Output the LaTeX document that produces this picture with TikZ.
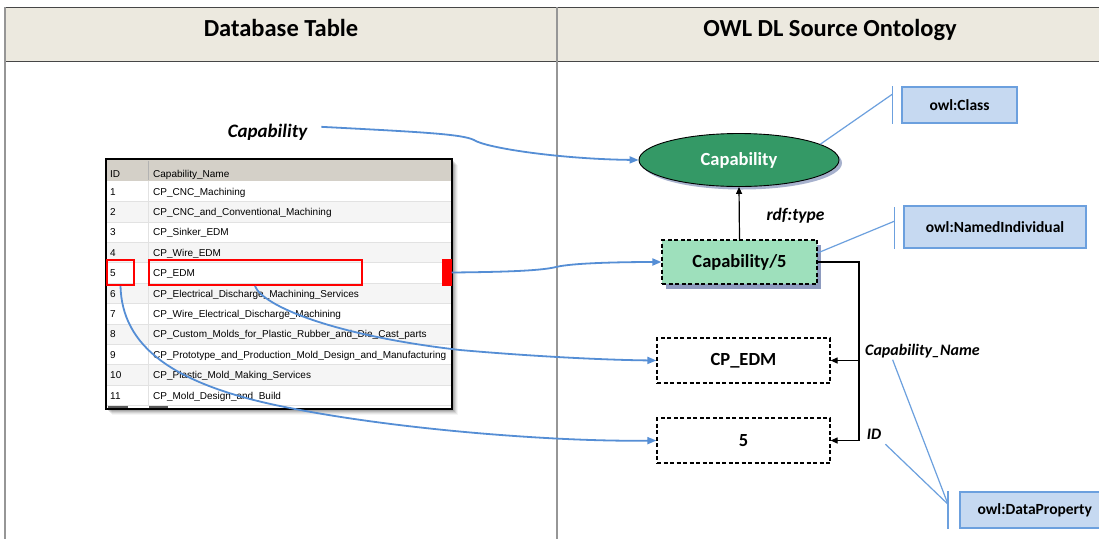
\documentclass[tikz,border=0pt]{standalone}
\usepackage{fontspec}
\setmainfont{Carlito}
\newfontfamily\gridfont{Liberation Sans}
\usetikzlibrary{arrows.meta,calc,shapes.geometric,shadows}

\definecolor{headfill}{RGB}{236,233,223}
\definecolor{headline}{RGB}{70,70,70}
\definecolor{colline}{RGB}{150,150,150}
\definecolor{linkblue}{RGB}{85,142,213}
\definecolor{classgreen}{RGB}{52,153,102}
\definecolor{indivgreen}{RGB}{158,224,188}
\definecolor{tagfill}{RGB}{198,217,241}
\definecolor{tagedge}{RGB}{108,160,222}
\definecolor{gridhead}{RGB}{212,208,200}
\definecolor{gridalt}{RGB}{245,245,245}
\definecolor{gridrule}{RGB}{226,226,226}
\definecolor{shadowtone}{RGB}{130,145,185}

\newcommand{\fsz}[1]{\fontsize{#1}{#1}\selectfont}

\begin{document}
\begin{tikzpicture}[x=1pt,y=-1pt,
  headtext/.style={font=\bfseries\fsz{24.5}, inner sep=0pt},
  gridtext/.style={font=\gridfont\fsz{10}, inner sep=0pt, anchor=base west},
  selframe/.style={draw=red, line width=2pt, inner sep=0pt},
  classnode/.style={ellipse, draw=black, line width=0.9pt, fill=classgreen,
    minimum width=200pt, minimum height=53pt, inner sep=0pt,
    text=white, font=\bfseries\fsz{18.5},
    drop shadow={shadow xshift=3pt, shadow yshift=-3pt, fill=shadowtone, opacity=0.7}},
  indivnode/.style={rectangle, draw=black, dashed, dash pattern=on 4pt off 2.5pt,
    line width=1.2pt, fill=indivgreen, minimum width=155pt, minimum height=44pt,
    inner sep=0pt, font=\bfseries\fsz{18.5},
    drop shadow={shadow xshift=3.5pt, shadow yshift=-4.5pt, fill=shadowtone, opacity=0.9}},
  litnode/.style={rectangle, draw=black, dashed, dash pattern=on 4pt off 2.5pt,
    line width=1.2pt, fill=white, minimum width=173pt, minimum height=45pt,
    inner sep=0pt, font=\bfseries\fsz{18.5}},
  tagnode/.style={rectangle, draw=tagedge, line width=1.5pt, fill=tagfill,
    inner sep=0pt, font=\bfseries\fsz{15.5}},
  proplabel/.style={inner sep=0pt, anchor=base, font=\bfseries\itshape\fsz{16}},
  link/.style={draw=linkblue, line width=1.8pt, -{Triangle[length=9pt,width=7pt]}},
  propline/.style={draw=black, line width=1.2pt},
  proparrow/.style={propline, -{Triangle[length=7pt,width=6pt]}},
  tagline/.style={draw=tagedge, line width=1.2pt}
]
\useasboundingbox (0,0) rectangle (1099,539);
\clip (0,0) rectangle (1099,539);
\fill[white] (0,0) rectangle (1099,539);

% ---- column headers and frame ----
\fill[headfill] (5,7) rectangle (1099,61);
\draw[headline, line width=1pt] (5,7) -- (1099,7);
\draw[headline, line width=1pt] (5,61) -- (1099,61);
\draw[colline, line width=1.3pt] (5,7) -- (5,539);
\draw[colline, line width=1.3pt] (557,7) -- (557,539);
\node[headtext, anchor=base] (hdb) at (281,36) {Database Table};
\node[headtext, anchor=base] (hont) at (830,36) {OWL DL Source Ontology};

% ---- database grid ----
\foreach \d/\o in {6/0.04,5/0.06,4/0.08,3/0.10,2/0.12}
  {\fill[black, opacity=\o] (106+\d,159+\d) rectangle (452+\d,409+\d);}
\fill[white] (106,159) rectangle (452,409);
\fill[gridhead] (106,160) rectangle (452,181);
\foreach \i in {2,4,6,8,10}
  {\fill[gridalt] (106,{181+(\i-1)*20.4}) rectangle (452,{181+\i*20.4});}
\foreach \i in {1,...,11}
  {\draw[gridrule, line width=0.6pt] (106,{181+\i*20.4}) -- (452,{181+\i*20.4});}
\draw[black!30, line width=0.8pt] (148,161) -- (148,180);
\draw[gridrule, line width=0.6pt] (148,181) -- (148,405);
\node[gridtext] (hid) at (110,177) {ID};
\node[gridtext] (hname) at (153,177) {Capability\_Name};
\foreach \i/\n in {1/CP\_CNC\_Machining,
                   2/CP\_CNC\_and\_Conventional\_Machining,
                   3/CP\_Sinker\_EDM,
                   4/CP\_Wire\_EDM,
                   5/CP\_EDM,
                   6/CP\_Electrical\_Discharge\_Machining\_Services,
                   7/CP\_Wire\_Electrical\_Discharge\_Machining,
                   8/CP\_Custom\_Molds\_for\_Plastic\_Rubber\_and\_Die\_Cast\_parts,
                   9/CP\_Prototype\_and\_Production\_Mold\_Design\_and\_Manufacturing,
                   10/CP\_Plastic\_Mold\_Making\_Services,
                   11/CP\_Mold\_Design\_and\_Build}
  {\node[gridtext] (id\i) at (110,{181+(\i-0.5)*20.4+3.9}) {\i};
   \node[gridtext] (nm\i) at (153,{181+(\i-0.5)*20.4+3.9}) {\n};}
\fill[black!65] (108,406) rectangle (128,408.5);
\fill[black!65] (149,406) rectangle (168,408.5);
\draw[black, line width=2pt] (106,159) rectangle (452,409);

% selected row
\node[selframe, minimum width=27pt, minimum height=25pt] (idsel) at (120.5,272.5) {};
\node[selframe, minimum width=213pt, minimum height=25pt] (namesel) at (255,272.5) {};
\node[fill=red, inner sep=0pt, minimum width=10pt, minimum height=27pt] (rowmark) at (446.5,272.5) {};

% ---- ontology ----
\node[classnode] (capcls) at (739,160) {Capability};
\node[indivnode] (cap5) at (739.5,262) {Capability/5};
\node[litnode] (edm) at (743.5,360.5) {CP\_EDM};
\node[litnode] (five) at (743.5,440.5) {5};

\node[proplabel, font=\bfseries\itshape\fsz{19}] (caplab) at (267.5,137) {Capability};
\node[proplabel, font=\bfseries\itshape\fsz{17.5}] (rdflab) at (795.5,220) {rdf:type};
\node[proplabel] (cnlab) at (922.5,355) {Capability\_Name};
\node[proplabel] (idlab) at (874,439) {ID};

\draw[proparrow] (cap5.north) -- (capcls.south);
\coordinate (jn) at (859,262);
\draw[proparrow] (cap5.east) -- (jn) |- (five.east);
\draw[proparrow] (jn |- edm.east) -- (edm.east);

% ---- vocabulary tags ----
\node[tagnode, minimum width=115pt, minimum height=36pt] (tclass) at (959.5,105) {owl:Class};
\node[tagnode, minimum width=182pt, minimum height=42pt] (tind) at (995,227) {owl:NamedIndividual};
\node[tagnode, minimum width=150pt, minimum height=36pt, anchor=west] (tdp) at (959,510) {owl:DataProperty};

\draw[tagline] ($(tclass.north west)+(-9,0)$) -- ($(tclass.south west)+(-9,0)$);
\coordinate (tclj) at ($(tclass.north west)+(-9,8)$);
\draw[tagline] (tclj) -- (capcls.11);

\draw[tagline] ($(tind.north west)+(-9,2)$) -- ($(tind.south west)+(-9,0)$);
\coordinate (tindj) at ($(tind.north west)+(-9,16)$);
\draw[tagline] (tindj) -- ($(cap5.north east)!0.3!(cap5.south east)$);

\draw[tagline] ($(tdp.north west)+(-11,0)$) -- ($(tdp.south west)+(-11,0)$);
\coordinate (tdpj) at ($(tdp.north west)+(-11,13)$);
\draw[tagline] (tdpj) -- ($(cnlab.south west)!0.24!(cnlab.south east)+(0,2)$);
\draw[tagline] (tdpj) -- ($(idlab.south east)+(4,5)$);

% ---- mapping links ----
\draw[link] ($(caplab.east)+(14,-5)$) .. controls (420,132) and (462,134) .. (474,140)
  .. controls (486,148) and (560,159) .. (capcls.west);
\draw[link] (rowmark.east) .. controls (500,272) and (540,271) .. (556,267)
  .. controls (572,263) and (620,262) .. (cap5.west);
\draw[link] (namesel.south) .. controls (262,305) and (330,335) .. (460,350)
  .. controls (540,357) and (610,360) .. (edm.west);
\draw[link] (idsel.south) .. controls (122,345) and (170,385) .. (290,408)
  .. controls (400,430) and (560,442) .. (five.west);
\end{tikzpicture}
\end{document}
